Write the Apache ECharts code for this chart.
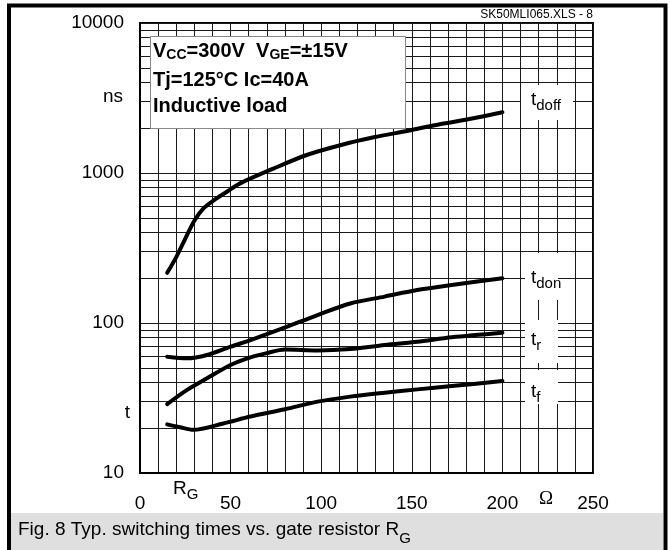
<!DOCTYPE html>
<html><head><meta charset="utf-8">
<script src="https://cdn.jsdelivr.net/npm/echarts@6/dist/echarts.min.js"></script>
<style>html,body{margin:0;padding:0;background:#fff}#c{width:670px;height:550px}</style>
</head><body><div id="c"></div>
<script>
// ---- data (gate resistor in ohm, times in ns) ----
const rgDoff = [15, 20, 25, 30, 35, 40.5, 48, 55, 74, 92, 111, 129, 148, 166, 184, 200];
const tDoff  = [216, 275, 365, 480, 580, 655, 750, 850, 1075, 1318, 1537, 1729, 1914, 2122, 2315, 2540];
const rgDon  = [15, 26, 37, 50, 61, 79, 98, 116, 135, 153, 172, 200];
const tDon   = [59.6, 58.2, 61.2, 69.5, 77, 92.3, 113, 135, 150, 166, 179, 199];
const rgTr   = [15, 26, 37, 50, 61, 70, 80, 98, 116, 135, 153, 172, 200];
const tTr    = [28.8, 35.8, 42.8, 52.5, 59, 63, 66.5, 65.5, 67, 71.4, 75, 80.3, 86.1];
const rgTf   = [15, 22, 29.5, 46, 61, 80, 98, 116, 135, 153, 172, 200];
const tTf    = [21.1, 20.2, 19.4, 21.4, 23.8, 26.6, 29.9, 32.3, 34.3, 36.1, 38, 41];
const yTickLabels = [10, 100, 1000, 10000];
const yMinorGrid = [20,30,40,50,60,70,80,90, 200,300,400,500,600,700,800,900, 2000,3000,4000,5000,6000,7000,8000,9000];

const FONT = '"Liberation Sans", Arial, sans-serif';
const GRID_COLOR = '#1a1a1a';
const ctx = document.createElement('canvas').getContext('2d');
function fontStr(size, bold) { return (bold ? 'bold ' : '') + size + 'px ' + FONT; }
function seq(x, y, parts, align) {
  let total = 0;
  parts.forEach(p => { ctx.font = fontStr(p.s, p.b); p.w = ctx.measureText(p.t).width; total += p.w; });
  let cx = align === 'right' ? x - total : x;
  const out = [];
  parts.forEach(p => {
    out.push({ type: 'text', z: 110, silent: true,
      style: { x: cx, y: y + (p.dy || 0), text: p.t, font: fontStr(p.s, p.b), fill: '#000', align: 'left', verticalAlign: 'middle' } });
    cx += p.w;
  });
  return out;
}
function curve(name, rg, t) {
  return { type: 'line', name: name, data: rg.map((r, i) => [r, t[i]]), smooth: 0.3,
    showSymbol: false, symbol: 'none', silent: true, z: 5,
    lineStyle: { color: '#000', width: 4, cap: 'round', join: 'round' } };
}
function whiteBox(x, y, w, h) {
  return { type: 'rect', z: 100, silent: true, shape: { x: x, y: y, width: w, height: h }, style: { fill: '#fff' } };
}

const elements = [].concat(
  [{ type: 'rect', z: 100, silent: true, shape: { x: 11, y: 513, width: 652, height: 40 }, style: { fill: '#dfdfdf' } },
   { type: 'rect', z: 120, silent: true, shape: { x: 9, y: 5.5, width: 656.5, height: 600 }, style: { fill: 'none', stroke: '#000', lineWidth: 4 } },
   { type: 'rect', z: 100, silent: true, shape: { x: 150.5, y: 36.5, width: 255, height: 92 }, style: { fill: '#fff', stroke: '#888', lineWidth: 1 } },
   whiteBox(521, 85, 52, 35),
   whiteBox(525, 253, 33, 47),
   whiteBox(525, 320, 33, 43),
   whiteBox(525, 370, 33, 34)],
  seq(153, 51, [{t:'V',s:20,b:1},{t:'CC',s:14,b:1,dy:4},{t:'=300V  V',s:20,b:1},{t:'GE',s:14,b:1,dy:4},{t:'=±15V',s:20,b:1}]),
  seq(153, 80, [{t:'Tj=125°C Ic=40A',s:20,b:1}]),
  seq(153, 106, [{t:'Inductive load',s:20,b:1}]),
  seq(531, 100, [{t:'t',s:19},{t:'doff',s:15,dy:6}]),
  seq(531, 278, [{t:'t',s:19},{t:'don',s:15,dy:6}]),
  seq(531, 340, [{t:'t',s:19},{t:'r',s:15,dy:6}]),
  seq(531, 392, [{t:'t',s:19},{t:'f',s:15,dy:6}]),
  seq(173, 489, [{t:'R',s:19},{t:'G',s:15,dy:6}]),
  seq(123, 97, [{t:'ns',s:19}], 'right'),
  seq(130, 413, [{t:'t',s:19}], 'right'),
  seq(593, 15, [{t:'SK50MLI065.XLS - 8',s:12}], 'right'),
  seq(18, 530, [{t:'Fig. 8 Typ. switching times vs. gate resistor R',s:19},{t:'G',s:15,dy:9}]),
  [{ type: 'text', z: 110, silent: true, style: { x: 546, y: 499, text: 'Ω', font: '19px "Liberation Serif", serif', fill: '#000', align: 'center', verticalAlign: 'middle' } }]
);

const chart = echarts.init(document.getElementById('c'), null, { renderer: 'canvas' });
chart.setOption({
  animation: false,
  backgroundColor: '#fff',
  grid: { left: 140, top: 23, right: 77, bottom: 77, show: true, borderColor: '#000', borderWidth: 2, backgroundColor: 'transparent' },
  xAxis: {
    type: 'value', min: 0, max: 250, interval: 50,
    axisLine: { show: true, lineStyle: { color: '#000', width: 2 } },
    axisTick: { show: false },
    axisLabel: { fontSize: 19, color: '#000', fontFamily: FONT, margin: 21 },
    splitLine: { show: true, lineStyle: { color: GRID_COLOR, width: 1 } },
    minorTick: { show: false, splitNumber: 5 },
    minorSplitLine: { show: true, lineStyle: { color: GRID_COLOR, width: 1 } }
  },
  yAxis: {
    type: 'log', logBase: 10, min: yTickLabels[0], max: yTickLabels[yTickLabels.length - 1],
    axisLine: { show: true, lineStyle: { color: '#000', width: 2 } },
    axisTick: { show: false },
    axisLabel: { fontSize: 19, color: '#000', fontFamily: FONT, margin: 16, formatter: v => String(Math.round(v)) },
    splitLine: { show: true, lineStyle: { color: GRID_COLOR, width: 1 } },
    minorTick: { show: false }, minorSplitLine: { show: false }
  },
  series: [
    { type: 'line', data: [], z: 1, silent: true,
      markLine: { silent: true, symbol: ['none', 'none'], label: { show: false }, animation: false,
        lineStyle: { color: GRID_COLOR, width: 1, type: 'solid' },
        emphasis: { disabled: true },
        data: yMinorGrid.map(v => ({ yAxis: v })) } },
    curve('tdoff', rgDoff, tDoff),
    curve('tdon', rgDon, tDon),
    curve('tr', rgTr, tTr),
    curve('tf', rgTf, tTf)
  ],
  graphic: { elements: elements }
});
</script></body></html>
